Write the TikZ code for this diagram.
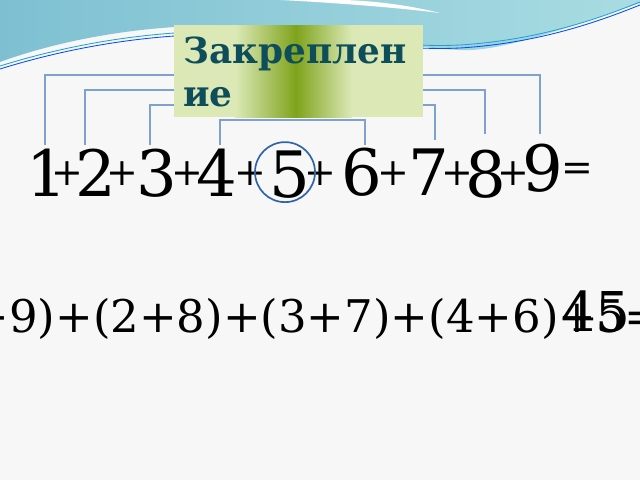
\documentclass[tikz,border=0pt]{standalone}
\usepackage{fontspec}
\setmainfont{DejaVu Serif}
\usetikzlibrary{calc}
\definecolor{bgtop}{HTML}{7EC0D2}
\definecolor{bgtopr}{HTML}{A9DCE2}
\definecolor{boxlight}{HTML}{DCE9B7}
\definecolor{boxdark}{HTML}{7FA31C}
\definecolor{titlecol}{HTML}{0E4E5B}
\definecolor{brcol}{HTML}{7DA2CE}
\definecolor{ringcol}{HTML}{2F65A8}

\begin{document}
\begin{tikzpicture}[x=0.025cm,y=-0.025cm,
        digit/.style={font=\fontsize{45.5}{50}\selectfont, inner sep=0pt, anchor=base},
        plus/.style={font=\fontsize{27}{28}\selectfont, inner sep=0pt},
        bracket/.style={brcol, line width=0.8pt}]
        \useasboundingbox (0,0) rectangle (640,480);
        \clip (0,0) rectangle (640,480);
        \fill[white!97!black] (0,0) rectangle (640,480);

        % waves at the top
        \shade[left color=bgtop, right color=bgtopr] (0,0) -- (640,0) -- (640,3)
            .. controls (560,30) and (500,52) .. (460,50)
            .. controls (400,47) and (330,30) .. (250,26)
            .. controls (150,22) and (60,40) .. (0,62) -- cycle;
        \fill[white] (280,0) .. controls (340,3) and (400,8) .. (440,13)
            .. controls (400,3) and (360,0) .. (340,0) -- cycle;
        \draw[cyan!70!teal, line width=0.6pt] (0,66) .. controls (90,38) and (180,28) .. (260,32)
            .. controls (340,36) and (400,48) .. (460,45) .. controls (540,40) and (600,18) .. (640,2);
        \draw[blue!70!cyan, line width=0.6pt] (0,69) .. controls (90,41) and (180,31) .. (260,35)
            .. controls (340,39) and (400,51) .. (460,48) .. controls (540,43) and (600,21) .. (640,5);

        % brackets
        \coordinate (a1) at (45,145);  \coordinate (a9) at (540,134);
        \coordinate (b2) at (85,145);  \coordinate (b8) at (485,134);
        \coordinate (c3) at (150,145); \coordinate (c7) at (435,140);
        \coordinate (e4) at (220,145); \coordinate (e6) at (365,145);
        \draw[bracket] (a1) -- ++(0,-70) -| (a9);
        \draw[bracket] (b2) -- ++(0,-55) -| (b8);
        \draw[bracket] (c3) -- ++(0,-40) -| (c7);
        \draw[bracket] (e4) -- ++(0,-25) -| (e6);

        % title box
        \fill[boxlight] (174,25) rectangle (423,117);
        \shade[left color=boxlight, right color=boxdark] (235,25) rectangle (296,117);
        \shade[left color=boxdark, right color=boxlight] (296,25) rectangle (352,117);
        \node[anchor=north west, inner sep=0pt, align=left, text=titlecol,
            font=\bfseries\fontsize{25.5}{30}\selectfont] (title) at (183,37) {Закреплен\\ие};

        % the sum
        \foreach \n/\x/\y in {1/47/196, 2/96/196, 3/157/196, 4/217/196, 5/290/197,
                6/362/195, 7/429/195, 8/486/197, 9/543/191}
            \node[digit] (d\n) at (\x,\y) {\n};
        \foreach \x [count=\i] in {67,122,187,250,320,393,457,513}
            \node[plus] (p\i) at (\x,174) {+};
        \node[plus] (eq) at (577,172) {=};
        \draw[ringcol, line width=1.2pt] (d5.center) ++(-5,-2) circle (30);

        % pairs
        \node[anchor=base west, inner sep=0pt, font=\fontsize{32}{36}\selectfont] (pairs) at (-75,332)
            {(1+9)+(2+8)+(3+7)+(4+6)+5=};
        \node[anchor=base, inner sep=0pt, font=\fontsize{39}{42}\selectfont] (total) at (596,331) {45};
    \end{tikzpicture}
\end{document}
